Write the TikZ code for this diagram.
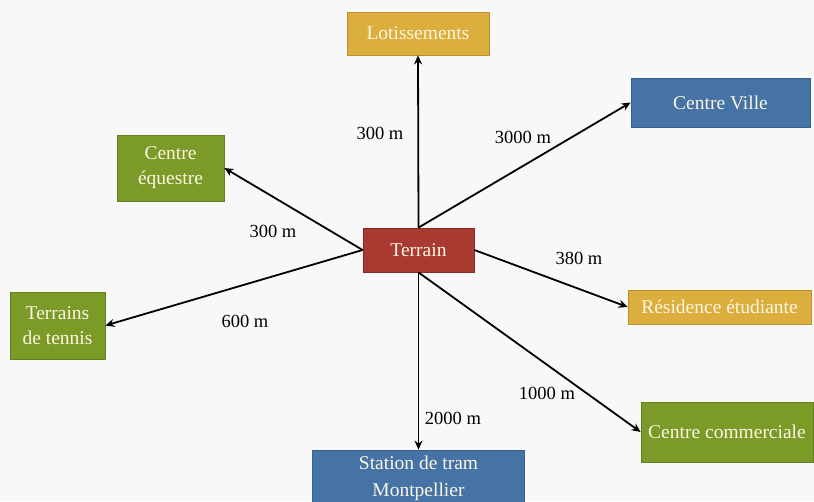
\documentclass[tikz,border=0pt]{standalone}
\usepackage{fontspec}
\setmainfont{Liberation Serif}
\usetikzlibrary{arrows.meta}
\definecolor{bg}{HTML}{F8F8F8}
\definecolor{goldf}{HTML}{DBAE3D}
\definecolor{goldd}{HTML}{B8912E}
\definecolor{bluef}{HTML}{4673A6}
\definecolor{blued}{HTML}{375F8C}
\definecolor{greenf}{HTML}{7B9A27}
\definecolor{greend}{HTML}{64801E}
\definecolor{redf}{HTML}{A83A31}
\definecolor{redd}{HTML}{8A2C25}
\definecolor{txtc}{HTML}{FBF6E2}
\tikzset{
  box/.style={draw, line width=0.8pt, text=txtc, inner sep=0pt, align=center,
    font=\fontsize{19.5}{25}\selectfont},
  goldbox/.style={box, fill=goldf, draw=goldd},
  bluebox/.style={box, fill=bluef, draw=blued},
  greenbox/.style={box, fill=greenf, draw=greend},
  redbox/.style={box, fill=redf, draw=redd},
  conn/.style={line width=1.8pt, -{Stealth[length=9pt,width=8pt]}},
  dist/.style={font=\fontsize{18.5}{22}\selectfont, inner sep=0pt}
}
\begin{document}
\begin{tikzpicture}[x=1pt,y=-1pt]
\fill[bg] (0,0) rectangle (814,501);
\useasboundingbox (0,0) rectangle (814,501);
\node[goldbox, minimum width=142pt, minimum height=43pt] (lot) at (418,33.5) {Lotissements};
\node[bluebox, minimum width=179pt, minimum height=49pt] (cv) at (720.5,102.5) {Centre Ville};
\node[greenbox, minimum width=107pt, minimum height=66pt] (ce) at (170.5,168) {Centre\\équestre};
\node[greenbox, minimum width=95pt, minimum height=67pt] (tt) at (57.5,325.5) {Terrains\\de tennis};
\node[redbox, minimum width=111pt, minimum height=44pt] (ter) at (418.5,250) {Terrain};
\node[goldbox, minimum width=183pt, minimum height=34pt] (re) at (719.5,307) {Résidence étudiante};
\node[greenbox, minimum width=172pt, minimum height=60pt] (cc) at (727,432) {Centre commerciale};
\node[bluebox, minimum width=212pt, minimum height=56pt, font=\fontsize{19.5}{27}\selectfont] (st) at (418.5,478) {Station de tram\\Montpellier};

\draw[conn] (ter.north) -- (lot.south);
\draw[conn] (ter.north) -- (cv.west);
\draw[conn] (ter.west) -- (ce.east);
\draw[conn] (ter.west) -- (tt.east);
\draw[conn] (ter.east) -- (re.west);
\draw[conn] (ter.south) -- (cc.west);
\draw[conn] (ter.south) -- (st.north);

\node[dist] (d1) at (380,133) {300 m};
\node[dist] (d2) at (523,137) {3000 m};
\node[dist] (d3) at (273,231) {300 m};
\node[dist] (d4) at (579,258) {380 m};
\node[dist] (d5) at (245,321) {600 m};
\node[dist] (d6) at (547,393) {1000 m};
\node[dist] (d7) at (453,418) {2000 m};
\end{tikzpicture}
\end{document}
